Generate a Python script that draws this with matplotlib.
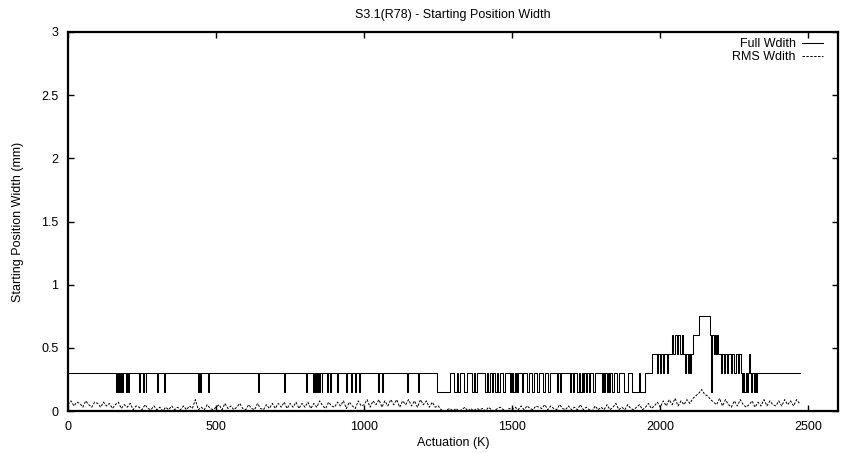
import numpy as np
import matplotlib
matplotlib.use('Agg')
import matplotlib.pyplot as plt

matplotlib.rcParams.update({'font.size': 9, 'font.family': ['Liberation Sans', 'DejaVu Sans']})

# RMS width, sampled every 10 K from 0 to 2470 K (mm)
rms_k = np.arange(0, 2480, 10)
rms_mm = [
    0.05, 0.08, 0.04, 0.07, 0.06, 0.03, 0.08, 0.05, 0.03, 0.07,
    0.06, 0.03, 0.07, 0.04, 0.06, 0.02, 0.05, 0.07, 0.02, 0.05,
    0.03, 0.06, 0.01, 0.04, 0.03, 0.01, 0.05, 0.02, 0.01, 0.04,
    0.01, 0.03, 0.00, 0.03, 0.01, 0.04, 0.01, 0.03, 0.01, 0.04,
    0.01, 0.04, 0.02, 0.09, 0.01, 0.03, 0.01, 0.05, 0.02, 0.01,
    0.03, 0.05, 0.01, 0.06, 0.02, 0.04, 0.01, 0.03, 0.06, 0.02,
    0.01, 0.05, 0.02, 0.01, 0.06, 0.02, 0.01, 0.05, 0.02, 0.06,
    0.02, 0.06, 0.03, 0.07, 0.02, 0.06, 0.03, 0.07, 0.02, 0.06,
    0.03, 0.07, 0.02, 0.06, 0.03, 0.08, 0.04, 0.02, 0.07, 0.04,
    0.03, 0.07, 0.04, 0.08, 0.02, 0.07, 0.04, 0.02, 0.08, 0.04,
    0.05, 0.09, 0.03, 0.08, 0.05, 0.09, 0.03, 0.08, 0.04, 0.09,
    0.05, 0.09, 0.03, 0.08, 0.05, 0.09, 0.04, 0.08, 0.03, 0.09,
    0.05, 0.08, 0.03, 0.07, 0.03, 0.04, 0.01, 0.00, 0.01, 0.02,
    0.00, 0.02, 0.00, 0.01, 0.03, 0.00, 0.02, 0.00, 0.02, 0.01,
    0.02, 0.00, 0.03, 0.01, 0.00, 0.02, 0.03, 0.01, 0.00, 0.02,
    0.01, 0.03, 0.01, 0.04, 0.01, 0.04, 0.02, 0.01, 0.04, 0.03,
    0.02, 0.05, 0.01, 0.04, 0.02, 0.01, 0.05, 0.02, 0.01, 0.04,
    0.01, 0.03, 0.01, 0.05, 0.01, 0.03, 0.01, 0.00, 0.04, 0.01,
    0.03, 0.01, 0.05, 0.01, 0.03, 0.06, 0.01, 0.03, 0.01, 0.05,
    0.02, 0.01, 0.03, 0.05, 0.01, 0.03, 0.06, 0.02, 0.04, 0.07,
    0.03, 0.08, 0.04, 0.09, 0.05, 0.10, 0.04, 0.08, 0.05, 0.09,
    0.06, 0.10, 0.12, 0.14, 0.17, 0.13, 0.12, 0.09, 0.07, 0.05,
    0.10, 0.04, 0.09, 0.05, 0.03, 0.08, 0.04, 0.09, 0.05, 0.03,
    0.05, 0.08, 0.03, 0.07, 0.04, 0.09, 0.04, 0.08, 0.05, 0.04,
    0.08, 0.04, 0.09, 0.05, 0.08, 0.04, 0.09, 0.06,
]

# full width: base level 0.3 mm with short drops to 0.15 mm (start K, end K)
fw_base = 0.3
fw_low = 0.15
fw_dips = [
    (163, 166), (168, 171), (173, 176), (179, 182), (184, 187), (195, 198), (202, 205),
    (239, 242), (252, 255), (262, 265), (300, 303), (323, 326), (438, 441), (445, 448),
    (472, 475), (641, 644), (729, 732), (803, 806), (826, 829), (833, 836), (840, 843),
    (848, 851), (856, 859), (874, 877), (884, 887), (908, 911), (938, 941), (955, 958),
    (969, 972), (982, 985), (1046, 1049), (1060, 1063), (1144, 1147), (1181, 1184),
    (1247, 1290), (1305, 1312), (1316, 1322), (1338, 1346), (1363, 1370), (1373, 1380),
    (1407, 1414), (1418, 1424), (1430, 1436), (1442, 1448), (1452, 1458), (1468, 1474),
    (1492, 1496), (1498, 1502), (1504, 1508), (1510, 1514), (1516, 1520), (1532, 1538),
    (1549, 1555), (1566, 1572), (1583, 1589), (1603, 1609), (1620, 1626), (1650, 1656),
    (1660, 1666), (1694, 1700), (1704, 1710), (1718, 1724), (1728, 1734), (1738, 1744),
    (1748, 1754), (1758, 1764), (1772, 1778), (1802, 1806), (1809, 1813), (1819, 1823),
    (1826, 1830), (1836, 1842), (1853, 1859), (1878, 1892), (1905, 1929), (1933, 1949),
]
# full width in the busy region at the end: (start K, level mm)
fw_tail = [
    (1949, 0.3), (1973, 0.45), (1988, 0.3), (1992, 0.45), (1998, 0.3), (2002, 0.45),
    (2008, 0.3), (2012, 0.45), (2022, 0.3), (2027, 0.45), (2040, 0.6), (2044, 0.45),
    (2048, 0.6), (2055, 0.45), (2060, 0.6), (2066, 0.45), (2072, 0.6), (2076, 0.45),
    (2083, 0.3), (2087, 0.45), (2093, 0.3), (2097, 0.45), (2100, 0.3), (2104, 0.45),
    (2111, 0.6), (2130, 0.75), (2167, 0.6), (2171, 0.15), (2175, 0.6), (2180, 0.45),
    (2184, 0.6), (2188, 0.45), (2192, 0.6), (2196, 0.45), (2205, 0.3), (2209, 0.45),
    (2215, 0.3), (2219, 0.45), (2226, 0.3), (2230, 0.45), (2238, 0.3), (2242, 0.45),
    (2250, 0.3), (2254, 0.45), (2262, 0.3), (2266, 0.45), (2272, 0.3), (2275, 0.15),
    (2279, 0.3), (2284, 0.15), (2288, 0.3), (2292, 0.15), (2296, 0.3), (2300, 0.45),
    (2303, 0.3), (2307, 0.15), (2311, 0.3), (2315, 0.15), (2319, 0.3), (2323, 0.15),
    (2327, 0.3), (2470, 0.3),
]

fw_k = [0]
fw_mm = [fw_base]
for a, b in fw_dips:
    fw_k += [a, b]
    fw_mm += [fw_low, fw_base]
for k, v in fw_tail:
    fw_k.append(k)
    fw_mm.append(v)

fig = plt.figure(figsize=(8.46, 4.53), dpi=100, facecolor='white')
ax = fig.add_axes([68/846, 1-411/453, 770/846, 379/453])

ax.plot(fw_k, fw_mm, color='black', lw=0.75, drawstyle='steps-post', label='Full Wdith')
ax.plot(rms_k, rms_mm, color='black', lw=0.7, ls=(0, (2.5, 1.5)), label='RMS Wdith')

ax.set_xlim(0, 2600)
ax.set_ylim(0, 3)
ax.set_xticks([0, 500, 1000, 1500, 2000, 2500])
ax.set_yticks([0, 0.5, 1, 1.5, 2, 2.5, 3])
ax.set_yticklabels(['0', '0.5', '1', '1.5', '2', '2.5', '3'])
ax.tick_params(direction='in', length=4.5, width=1, top=True, right=True, pad=7)
for s in ax.spines.values():
    s.set_linewidth(1.6)

ax.set_xlabel('Actuation (K)', labelpad=3)
ax.set_ylabel('Starting Position Width (mm)', labelpad=12)
ax.set_title('S3.1(R78) - Starting Position Width', fontsize=9, pad=10)

leg = ax.legend(loc='upper right', frameon=False, markerfirst=False, handlelength=1.7,
                handletextpad=0.5, labelspacing=0.1, borderaxespad=0,
                bbox_to_anchor=(828/846, 1-33/453), bbox_transform=fig.transFigure)

fig.savefig('out.png', dpi=100)
